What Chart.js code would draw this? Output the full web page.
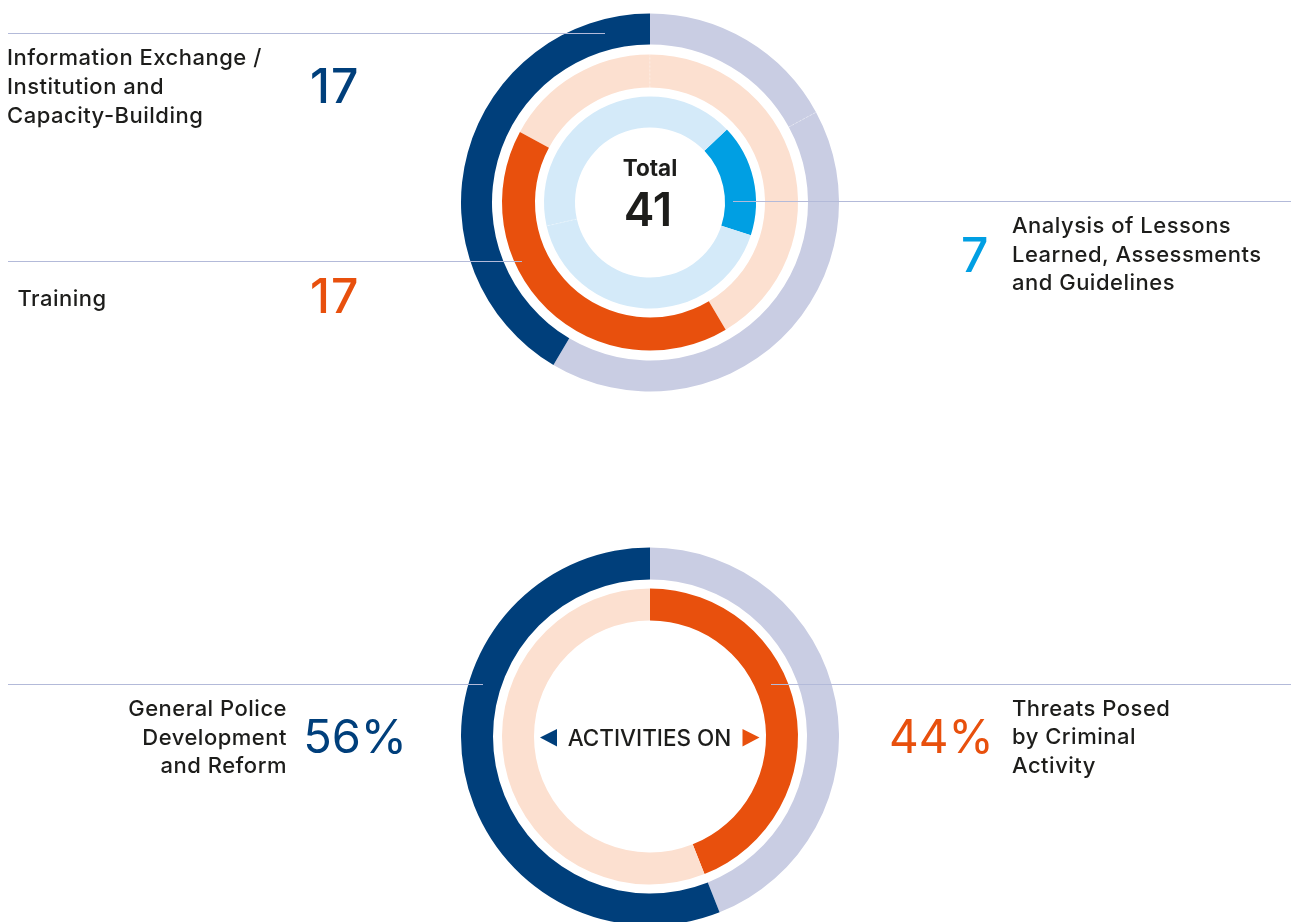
<!DOCTYPE html>
<html><head><meta charset="utf-8">
<script src="https://cdn.jsdelivr.net/npm/chart.js@4.4.1/dist/chart.umd.min.js"></script>
<style>
html,body{margin:0;padding:0;background:#fff;width:1291px;height:922px;overflow:hidden;}
#c1{position:absolute;left:461px;top:13px;}
#c2{position:absolute;left:461px;top:547px;}
#ov{position:absolute;left:0;top:0;pointer-events:none;}
#ov text{font-family:Inter,'Liberation Sans',sans-serif;}
#ov text.lbl{letter-spacing:0.5px;}
</style></head><body>
<canvas id="c1" width="378" height="379"></canvas>
<canvas id="c2" width="378" height="379"></canvas>
<svg id="ov" width="1291" height="922" xmlns="http://www.w3.org/2000/svg"></svg>
<script>
// ---------- data ----------
const topCategories = [
  ['Information Exchange /', 'Institution and', 'Capacity-Building'],
  ['Training'],
  ['Analysis of Lessons', 'Learned, Assessments', 'and Guidelines']
];
const topValues = [17, 17, 7];
const topTotalLabel = 'Total';
const topTotal = 41;
const bottomCategories = [
  ['General Police', 'Development', 'and Reform'],
  ['Threats Posed', 'by Criminal', 'Activity']
];
const bottomShares = [56, 44];
const centerLabel = 'ACTIVITIES ON';

// ---------- colours ----------
const C = {
  navy: '#003f7b', navyLight: '#c9cde3',
  orange: '#e8500d', orangeLight: '#fce0d0',
  cyan: '#009fe3', cyanLight: '#d4eaf9',
  text: '#1d1d1b', rule: '#b3bad9'
};

const seamPlugin = {
  id: 'seams',
  afterDatasetsDraw(chart) {
    const ctx = chart.ctx;
    chart.data.datasets.forEach((ds, i) => {
      if (!ds.seams) return;
      const meta = chart.getDatasetMeta(i);
      const n = meta.data.length;
      meta.data.forEach((arc, j) => {
        const prev = (j - 1 + n) % n;
        if (ds.backgroundColor[j] !== ds.backgroundColor[prev]) return;
        const p = arc.getProps(['x', 'y', 'startAngle', 'innerRadius', 'outerRadius']);
        ctx.save();
        ctx.strokeStyle = 'rgba(255,255,255,0.35)';
        ctx.lineWidth = 1;
        ctx.setLineDash([2, 2]);
        ctx.beginPath();
        ctx.moveTo(p.x + Math.cos(p.startAngle) * p.innerRadius, p.y + Math.sin(p.startAngle) * p.innerRadius);
        ctx.lineTo(p.x + Math.cos(p.startAngle) * p.outerRadius, p.y + Math.sin(p.startAngle) * p.outerRadius);
        ctx.stroke();
        ctx.restore();
      });
    });
  }
};

const spacer = w => ({ data: [1], backgroundColor: ['rgba(0,0,0,0)'], borderWidth: 0, weight: w });
const baseOpts = (cut) => ({
  responsive: false, animation: false, radius: 189, cutout: cut,
  plugins: { legend: { display: false }, tooltip: { enabled: false } },
  layout: { padding: 0 }, events: []
});

// top chart rings: each ring holds all three categories, one highlighted
const [vInfo, vTrain, vAna] = topValues;
new Chart(document.getElementById('c1'), {
  type: 'doughnut',
  data: {
    datasets: [
      { data: [vAna, vTrain, vInfo], backgroundColor: [C.navyLight, C.navyLight, C.navy], borderWidth: 0, weight: 31, rotation: 0, seams: true },
      spacer(10),
      { data: [vAna, vInfo, vTrain], backgroundColor: [C.orangeLight, C.orangeLight, C.orange], borderWidth: 0, weight: 33, rotation: -61.5, seams: true },
      spacer(9),
      { data: [vAna, vTrain, vInfo], backgroundColor: [C.cyan, C.cyanLight, C.cyanLight], borderWidth: 0, weight: 31, rotation: 46.5, seams: true }
    ]
  },
  options: baseOpts(75),
  plugins: [seamPlugin]
});

new Chart(document.getElementById('c2'), {
  type: 'doughnut',
  data: {
    datasets: [
      { data: [bottomShares[1], bottomShares[0]], backgroundColor: [C.navyLight, C.navy], borderWidth: 0, weight: 32 },
      spacer(9),
      { data: [bottomShares[1], bottomShares[0]], backgroundColor: [C.orange, C.orangeLight], borderWidth: 0, weight: 32 }
    ]
  },
  options: baseOpts(116)
});

// ---------- overlay: rules and text ----------
const svg = document.getElementById('ov');
const NS = 'http://www.w3.org/2000/svg';
function el(tag, attrs, txt) {
  const e = document.createElementNS(NS, tag);
  for (const k in attrs) e.setAttribute(k, attrs[k]);
  if (txt !== undefined) e.textContent = txt;
  svg.appendChild(e);
  return e;
}
function rule(x1, x2, y) { el('line', { x1, x2, y1: y, y2: y, stroke: C.rule, 'stroke-width': 1.2 }); }
function lines(arr, x, y0, lh, anchor) {
  arr.forEach((t, i) => el('text', { x, y: y0 + i * lh, 'text-anchor': anchor, 'font-size': 22, 'font-weight': 500, fill: C.text, class: 'lbl' }, t));
}

rule(8, 605, 33.5);
rule(8, 522, 261.5);
rule(733, 1291, 201.5);
rule(8, 483, 684.5);
rule(771, 1291, 684.5);

lines(topCategories[0], 7, 65.3, 29);
el('text', { x: 310, y: 103.3, 'font-size': 48, 'font-weight': 500, 'letter-spacing': 1, fill: C.navy }, String(topValues[0]));
lines(topCategories[1], 17.5, 306, 29);
el('text', { x: 310, y: 313.3, 'font-size': 48, 'font-weight': 500, 'letter-spacing': 1, fill: C.orange }, String(topValues[1]));
el('text', { x: 961, y: 271.7, 'font-size': 48, 'font-weight': 500, fill: C.cyan }, String(topValues[2]));
lines(topCategories[2], 1012, 233.3, 28.5);

el('text', { x: 650, y: 175.7, 'text-anchor': 'middle', 'font-size': 22.5, 'font-weight': 700, fill: C.text }, topTotalLabel);
el('text', { x: 648, y: 226, 'text-anchor': 'middle', 'font-size': 46, 'font-weight': 600, fill: C.text }, String(topTotal));

lines(bottomCategories[0], 287, 715.7, 28.8, 'end');
el('text', { x: 407, y: 753.3, 'text-anchor': 'end', 'font-size': 47, 'font-weight': 400, fill: C.navy }, bottomShares[0] + '%');
el('text', { x: 889, y: 753.3, 'font-size': 46, 'font-weight': 400, fill: C.orange }, bottomShares[1] + '%');
lines(bottomCategories[1], 1012, 715.7, 28.5, 'start');

el('text', { x: 649.5, y: 745.7, 'text-anchor': 'middle', 'font-size': 22.5, 'font-weight': 500, fill: C.text }, centerLabel);
el('polygon', { points: '540,737.5 557,729 557,746.5', fill: C.navy });
el('polygon', { points: '742.5,729 742.5,746.5 759.5,737.5', fill: C.orange });
</script>
</body></html>
